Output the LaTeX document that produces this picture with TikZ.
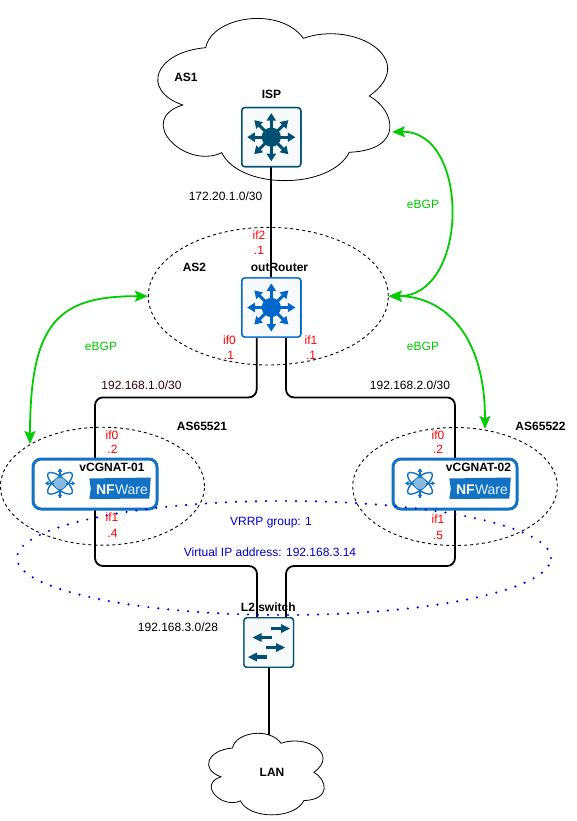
\documentclass[tikz,border=0pt]{standalone}
\usepackage{fontspec}
\setmainfont{Liberation Sans}
\usetikzlibrary{shapes.geometric,arrows.meta}
\definecolor{teal}{HTML}{005073}
\definecolor{rblue}{HTML}{0066CC}
\definecolor{nfblue}{HTML}{1273C4}
\definecolor{egreen}{HTML}{00CC00}
\definecolor{dred}{HTML}{FF0000}
\definecolor{dkred}{HTML}{330000}
\definecolor{vblue}{HTML}{0000CC}
\newcommand{\cloudshape}{(205.7,47.7) .. controls (212,16) and (280,6) .. (303.3,38.3)
 .. controls (355,20) and (420,60) .. (369.3,96)
 .. controls (395,110) and (405,150) .. (349.3,152.3)
 .. controls (330,190) and (240,190) .. (221.7,152.7)
 .. controls (185,170) and (135,120) .. (182.7,105)
 .. controls (140,90) and (155,52) .. (205.7,47.7) -- cycle}
\tikzset{
 x=1pt,y=-1pt,
 txt/.style={inner sep=0pt,font=\fontsize{12}{13}\selectfont},
 bold/.style={inner sep=0pt,font=\fontsize{12}{13}\selectfont\bfseries},
 red/.style={txt,text=dred},
 blu/.style={txt,text=vblue},
 grn/.style={txt,text=egreen},
 wire/.style={draw=black,line width=1.8pt,rounded corners=8pt},
 dash1/.style={draw=black,line width=.9pt,dash pattern=on 3pt off 3pt},
 area/.style={ellipse,dash1,inner sep=0pt},
 bgparrow/.style={draw=egreen,line width=1.8pt,{Stealth[length=13pt,width=11pt,inset=2.5pt]}-{Stealth[length=13pt,width=11pt,inset=2.5pt]}},
 devbox/.style={rectangle,rounded corners=3pt,line width=1.4pt,fill=#1!3!white,draw=#1,inner sep=0pt},
 vcbox/.style={rectangle,rounded corners=8pt,line width=3pt,fill=white,draw=nfblue,inner sep=0pt,minimum width=124pt,minimum height=50pt},
 pics/hub/.style={code={
   \fill[#1] (0,0) circle (9.6);
   \foreach \a in {0,45,...,315}{
     \begin{scope}[rotate=\a]
       \draw[#1,line width=3pt] (8,0) -- (18,0);
       \fill[#1] (24,0) -- (16.5,-4.8) -- (16.5,4.8) -- cycle;
     \end{scope}}
 }},
 pics/atom/.style={code={
   \foreach \a in {-40,40}{
     \draw[nfblue,line width=1.4pt,rotate=\a] (0,0) ellipse (15.5 and 5.8);}
   \foreach \a in {0,90,180,270}{
     \draw[nfblue,line width=1.2pt,rotate=\a] (0,0) -- (14.5,0);
     \fill[nfblue,rotate=\a] (15,0) -- (11.5,-2.4) -- (11.5,2.4) -- cycle;}
   \fill[nfblue!50!white] (0,0) circle (5.8);
 }},
 pics/nflogo/.style={code={
   \fill[nfblue] (0,0) -- (61.5,-1) -- (60,20) -- (0,20.5) -- (1.5,10) -- cycle;
   \node[inner sep=0pt,text=white,anchor=base west,font=\fontsize{14}{14}\selectfont\bfseries] at (6.5,15.5) {NF};
   \node[inner sep=0pt,text=white!88!nfblue,anchor=base west,font=\fontsize{14}{14}\selectfont] at (25.5,15.5) {Ware};
 }}
}
\begin{document}
\begin{tikzpicture}
\useasboundingbox (0,0) rectangle (576,821);
\fill[white] (0,0) rectangle (576,821);
% clouds
\draw[black,line width=.8pt,fill=white] \cloudshape;
\begin{scope}[shift={(130,724)},x=.498pt,y=-.503pt]
 \draw[black,line width=.8pt,fill=white] \cloudshape;
\end{scope}
\coordinate (cloudE) at (392,132);
\coordinate (lanN) at (268.7,735);
% areas
\node[area,minimum width=240pt,minimum height=137.6pt] (as2) at (268.3,296.2) {};
\node[area,minimum width=204pt,minimum height=118pt] (as3) at (102.5,486.2) {};
\node[area,minimum width=204.6pt,minimum height=118pt] (as4) at (455,486.5) {};
% devices
\node[devbox=teal,minimum size=59pt] (isp) at (271.3,137.2) {};
\node[devbox=rblue,minimum size=59pt] (rt) at (271.3,307.5) {};
\node[devbox=teal,minimum size=49.5pt] (sw) at (268.7,642.5) {};
\coordinate (vc1) at (95,484);
\coordinate (vc2) at (455,484);
% wires
\draw[wire] (isp.south) -- (rt.north);
\draw[wire] ([xshift=-14.6pt]rt.south) -- ++(0,59.7) -| (vc1);
\draw[wire] ([xshift=14.7pt]rt.south) -- ++(0,59.7) -| (vc2);
\draw[wire] (vc1) -- (95,566) -| ([xshift=-11.7pt]sw.north);
\draw[wire] (vc2) -- (455,566) -| ([xshift=17.3pt]sw.north);
\draw[wire] (sw.south) -- (lanN);
% boxes on top of wires
\node[devbox=teal,minimum size=59pt] at (271.3,137.2) {};
\node[devbox=rblue,minimum size=59pt] at (271.3,307.5) {};
\pic at (271.3,137.2) {hub=teal};
\pic at (271.3,307.5) {hub=rblue};
\node[vcbox] (box1) at (95,484) {};
\node[vcbox] (box2) at (455,484) {};
\pic at (60,483.3) {atom};
\pic at (420,483.3) {atom};
\pic at (89.3,478.5) {nflogo};
\pic at (449.3,478.5) {nflogo};
% switch
\node[devbox=teal,minimum size=49.5pt] at (268.7,642.5) {};
\foreach \xa/\xb/\yy in {270.7/285/628.5, 258/271.7/637.5, 266/280/647.5, 253/267.3/657}{
 \draw[teal,line width=3.4pt] (\xa,\yy) -- (\xb,\yy);
}
\fill[teal] (290,628.5) -- (281,624) -- (281,633) -- cycle;
\fill[teal] (252.7,637.5) -- (261.7,633) -- (261.7,642) -- cycle;
\fill[teal] (285,647.5) -- (276,643) -- (276,652) -- cycle;
\fill[teal] (248,657) -- (257,652.5) -- (257,661.5) -- cycle;
% eBGP
\draw[bgparrow] (cloudE) .. controls (470,130) and (470,296) .. (as2.east);
\draw[bgparrow] (as2.west) .. controls (60,296) and (30,320) .. (30,444);
\coordinate (as4n) at (485,429);
\draw[bgparrow] (as2.east) .. controls (440,296) and (485,330) .. (as4n);
% vrrp
\node[ellipse,draw=blue,line width=2.4pt,line cap=round,dash pattern=on 0pt off 10pt,minimum width=534pt,minimum height=114pt,inner sep=0pt] (vrrp) at (284,558) {};
% labels
\node[bold] (tAS1) at (186,77) {AS1};
\node[bold] (tISP) at (271.5,94.5) {ISP};
\node[txt] (tn1) at (225.5,196) {172.20.1.0/30};
\node[red] (t1) at (259,235) {if2};
\node[red] (t2) at (259,250) {.1};
\node[bold] (tAS2) at (194.5,267) {AS2};
\node[bold] (trt) at (279.5,267) {outRouter};
\node[red] (t3) at (229.5,340) {if0};
\node[red] (t4) at (229,355) {.1};
\node[red] (t5) at (311,340) {if1};
\node[red] (t6) at (311,355) {.1};
\node[txt,text=dkred] (tn2) at (141.5,385) {192.168.1.0/30};
\node[txt] (tn3) at (410,385) {192.168.2.0/30};
\node[bold] (tAS3) at (202,426) {AS65521};
\node[bold] (tAS4) at (540.5,426) {AS65522};
\node[red] (t7) at (112,435) {if0};
\node[red] (t8) at (112.5,449) {.2};
\node[red] (t9) at (112,517) {if1};
\node[red] (t10) at (112.5,533) {.4};
\node[red] (t11) at (438,435) {if0};
\node[red] (t12) at (438,449) {.2};
\node[red] (t13) at (438,519) {if1};
\node[red] (t14) at (438,535) {.5};
\node[bold] (tv1) at (112,467) {vCGNAT-01};
\node[bold] (tv2) at (478.5,467) {vCGNAT-02};
\node[blu] (tv) at (271,523) {VRRP group: 1};
\node[blu] (tvip) at (270,552) {Virtual IP address: 192.168.3.14};
\node[txt] (tn4) at (178,627) {192.168.3.0/28};
\node[bold] (tsw) at (268.3,607) {L2 switch};
\node[bold] (tlan) at (272,772) {LAN};
\node[grn] (g1) at (423,204) {eBGP};
\node[grn] (g2) at (101,346) {eBGP};
\node[grn] (g3) at (423,346) {eBGP};
\end{tikzpicture}
\end{document}
